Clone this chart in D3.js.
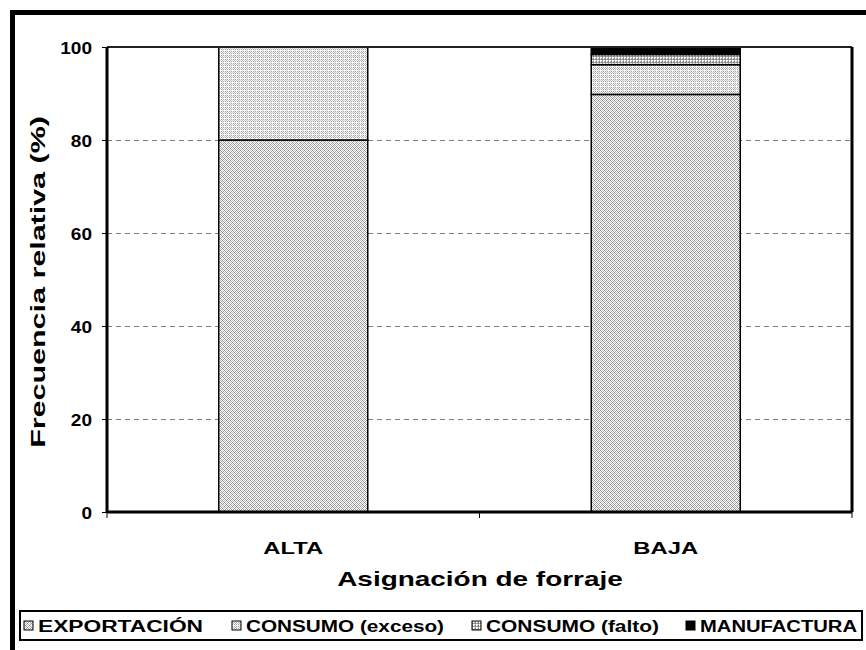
<!DOCTYPE html>
<html>
<head>
<meta charset="utf-8">
<script src="https://d3js.org/d3.v7.min.js"></script>
<style>
body{margin:0;background:#fff;}
text{font-family:"Liberation Sans",Arial,sans-serif;font-weight:bold;}
</style>
</head>
<body>
<div id="chart"></div>
<script>
// datos
var categorias = ["ALTA", "BAJA"];
var series = ["EXPORTACIÓN", "CONSUMO (exceso)", "CONSUMO (falto)", "MANUFACTURA"];
var exportacion = [80, 89.8];
var consumoExceso = [20, 6.4];
var consumoFalto = [0, 2.2];
var manufactura = [0, 1.6];
var yTicks = [0, 20, 40, 60, 80, 100];

var W = 866, H = 650;
var margin = {top: 47, right: 14, bottom: 138, left: 107};
var w = W - margin.left - margin.right,
	h = H - margin.top - margin.bottom;

// el texto del original esta estirado a lo ancho
function estirar(sel, f){
	sel.each(function(){
		var l = this.getComputedTextLength();
		d3.select(this).attr("textLength", l * f).attr("lengthAdjust", "spacingAndGlyphs");
	});
}

var svg = d3.select("#chart").append("svg")
	.attr("width", W)
	.attr("height", H);

// tramas
var defs = svg.append("defs");
function trama(id, size, bg, pix){
	var p = defs.append("pattern")
		.attr("id", id)
		.attr("patternUnits", "userSpaceOnUse")
		.attr("width", size).attr("height", size);
	p.append("rect").attr("width", size).attr("height", size).attr("fill", bg);
	pix.forEach(function(d){
		p.append("rect").attr("x", d[0]).attr("y", d[1]).attr("width", 1).attr("height", 1)
			.attr("fill", d[2]).attr("shape-rendering", "crispEdges");
	});
}
trama("pExp", 4, "#ffffff", [[0,0,"#a0a0a0"],[2,0,"#a0a0a0"],[1,1,"#c8c8c8"],[3,1,"#888"],[0,2,"#a0a0a0"],[2,2,"#a0a0a0"],[1,3,"#888"],[3,3,"#c8c8c8"]]);
trama("pExc", 4, "#ffffff", [[0,0,"#a0a0a0"],[2,0,"#a0a0a0"],[1,1,"#c8c8c8"],[3,1,"#b0b0b0"],[0,2,"#a0a0a0"],[2,2,"#a0a0a0"],[3,3,"#c8c8c8"]]);
trama("pFal", 3, "#ffffff", [[0,0,"#888"],[1,0,"#aaa"],[2,0,"#888"],[0,1,"#aaa"],[0,2,"#888"],[2,2,"#bbb"]]);
var fills = ["url(#pExp)", "url(#pExc)", "url(#pFal)", "#000000"];

// marco exterior
svg.append("rect")
	.attr("x", 12.5).attr("y", 12.5)
	.attr("width", W + 20).attr("height", H + 20)
	.attr("fill", "none").attr("stroke", "#000").attr("stroke-width", 5);

var g = svg.append("g")
	.attr("transform", "translate(" + margin.left + "," + margin.top + ")");

var x = d3.scaleBand().domain(categorias).range([0, w]).padding(0);
var y = d3.scaleLinear().domain([0, 100]).range([h, 0]);
var barW = x.bandwidth() * 0.4;

// lineas de division
g.selectAll(".grid")
	.data(yTicks.filter(function(d){ return d > 0 && d < 100; }))
	.enter().append("line")
	.attr("x1", 0).attr("x2", w)
	.attr("y1", function(d){ return Math.round(y(d)) + 0.5; })
	.attr("y2", function(d){ return Math.round(y(d)) + 0.5; })
	.attr("stroke", "#808080")
	.attr("stroke-dasharray", "5,4")
	.attr("stroke-width", 1);

// barras apiladas
var datos = categorias.map(function(c, i){
	return {cat: c, 0: exportacion[i], 1: consumoExceso[i], 2: consumoFalto[i], 3: manufactura[i]};
});
var stack = d3.stack().keys([0, 1, 2, 3])(datos);

g.selectAll(".serie")
	.data(stack)
	.enter().append("g")
	.attr("class", "serie")
	.attr("fill", function(d, i){ return fills[i]; })
	.selectAll("rect")
	.data(function(d){ return d.filter(function(s){ return s[1] - s[0] > 0; }); })
	.enter().append("rect")
	.attr("x", function(d){ return x(d.data.cat) + (x.bandwidth() - barW) / 2; })
	.attr("y", function(d){ return y(d[1]); })
	.attr("width", barW)
	.attr("height", function(d){ return y(d[0]) - y(d[1]); })
	.attr("stroke", "#000")
	.attr("stroke-width", 1.5);

// borde del area
g.append("line").attr("x1", 0).attr("x2", w).attr("y1", 0).attr("y2", 0)
	.attr("stroke", "#222").attr("stroke-width", 2);
g.append("line").attr("x1", w).attr("x2", w).attr("y1", 0).attr("y2", h)
	.attr("stroke", "#000").attr("stroke-width", 3);

// ejes
var yAxis = g.append("g")
	.call(d3.axisLeft(y).tickValues(yTicks).tickSize(5).tickPadding(10));
yAxis.select(".domain").attr("stroke-width", 3).attr("d", "M0,0V" + h);
yAxis.selectAll(".tick line").attr("stroke-width", 1);
yAxis.selectAll("text").attr("font-size", "17px").attr("fill", "#000").attr("dy", "0.36em");
estirar(yAxis.selectAll("text"), 1.12);

var xAxis = g.append("g")
	.attr("transform", "translate(0," + h + ")")
	.call(d3.axisBottom(x).tickSize(0).tickPadding(30));
xAxis.select(".domain").attr("stroke-width", 3).attr("d", "M0,0H" + w);
xAxis.selectAll("text").attr("font-size", "17px").attr("fill", "#000");
estirar(xAxis.selectAll("text"), 1.4);
xAxis.selectAll(".sep")
	.data([0, w / 2, w])
	.enter().append("line")
	.attr("x1", function(d){ return d; }).attr("x2", function(d){ return d; })
	.attr("y1", 0).attr("y2", 6)
	.attr("stroke", "#000").attr("stroke-width", 1);

// titulos
var tY = svg.append("text")
	.attr("transform", "translate(45," + 282 + ") rotate(-90)")
	.attr("text-anchor", "middle")
	.attr("font-size", "21px")
	.text("Frecuencia relativa (%)");
estirar(tY, 1.45);
var tX = svg.append("text")
	.attr("x", 480)
	.attr("y", 586)
	.attr("text-anchor", "middle")
	.attr("font-size", "21px")
	.text("Asignación de forraje");
estirar(tX, 1.33);

// leyenda
var leg = svg.append("g");
leg.append("rect")
	.attr("x", 20).attr("y", 611).attr("width", 842).attr("height", 29)
	.attr("fill", "#fff").attr("stroke", "#000").attr("stroke-width", 2);
var legX = [24, 232, 472, 686];
var legLen = [165, 198, 173, 157];
var item = leg.selectAll(".item")
	.data(series)
	.enter().append("g")
	.attr("transform", function(d, i){ return "translate(" + legX[i] + ",626)"; });
item.append("rect")
	.attr("x", 0).attr("y", -5).attr("width", 9).attr("height", 9)
	.attr("fill", function(d, i){ return fills[i]; })
	.attr("stroke", "#000").attr("stroke-width", 1);
item.append("text")
	.attr("x", 14).attr("y", 6)
	.attr("font-size", "16px")
	.attr("textLength", function(d, i){ return legLen[i]; })
	.attr("lengthAdjust", "spacingAndGlyphs")
	.text(function(d){ return d; });
</script>
</body>
</html>
